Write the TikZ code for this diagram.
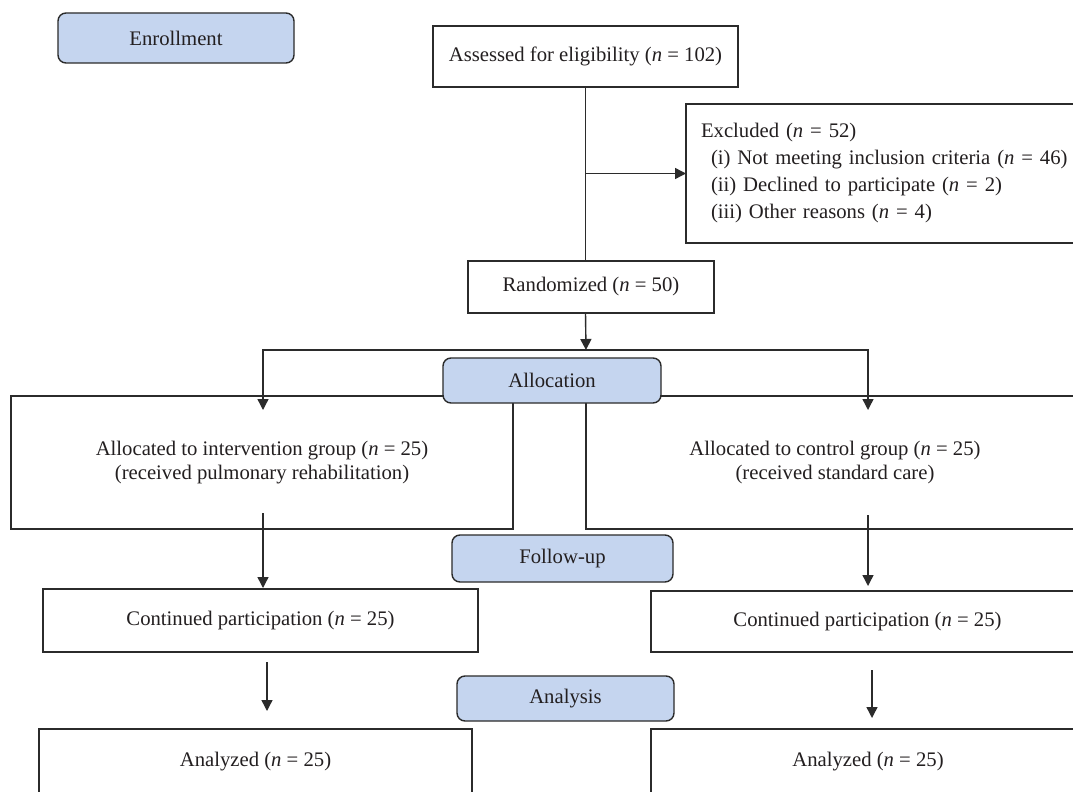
\documentclass[tikz,border=0pt]{standalone}
\usepackage{fontspec}
\setmainfont{Liberation Serif}
\usetikzlibrary{arrows.meta}
\definecolor{phase}{HTML}{C5D5EF}
\definecolor{ln}{HTML}{2B2B2B}
\definecolor{txt}{HTML}{231F20}
\begin{document}
\begin{tikzpicture}[x=1pt,y=-1pt,
  font=\fontsize{20.7}{23.5}\selectfont,
  box/.style={draw=ln, line width=1.4pt, fill=white, text=txt, inner sep=0pt, outer sep=0pt, align=center},
  phasebox/.style={box, fill=phase, rounded corners=8pt},
  conn/.style={draw=ln, line width=1.4pt},
  arr/.style={conn, -{Triangle[length=11pt,width=11pt]}}]
\useasboundingbox (0,0) rectangle (1073,792);
\fill[white] (0,0) rectangle (1073,792);
\clip (0,0) rectangle (1073,792);

% phase labels
\node[phasebox, minimum width=236pt, minimum height=50pt] (enr) at (176,38) {Enrollment};

% enrollment
\node[box, minimum width=305pt, minimum height=61pt] (assess) at (585.5,56.5)
  {Assessed for eligibility (\textit{n} = 102)};
\node[box, minimum height=139pt, text width=374pt, inner xsep=15pt, align=left,
      font=\fontsize{20.7}{27}\selectfont] (excl) at (888,173.5)
  {Excluded (\textit{n} = 52)\\
   \hspace*{10pt}(i) Not meeting inclusion criteria (\textit{n} = 46)\\
   \hspace*{10pt}(ii) Declined to participate (\textit{n} = 2)\\
   \hspace*{10pt}(iii) Other reasons (\textit{n} = 4)};
\node[box, minimum width=246pt, minimum height=52pt] (rand) at (591,287)
  {Randomized (\textit{n} = 50)};

% allocation
\node[box, minimum width=502pt, minimum height=133pt] (allocL) at (262,462.5)
  {Allocated to intervention group (\textit{n} = 25)\\(received pulmonary rehabilitation)};
\node[box, minimum width=498pt, minimum height=133pt] (allocR) at (835,462.5)
  {Allocated to control group (\textit{n} = 25)\\(received standard care)};
\node[phasebox, minimum width=218pt, minimum height=45pt] (alloc) at (552,380.5) {Allocation};

% follow-up
\node[phasebox, minimum width=221pt, minimum height=47pt] (fup) at (562.5,558.5) {Follow-up};
\node[box, minimum width=435pt, minimum height=63pt] (contL) at (260.5,620.5)
  {Continued participation (\textit{n} = 25)};
\node[box, minimum width=433pt, minimum height=61pt] (contR) at (867.5,621.5)
  {Continued participation (\textit{n} = 25)};

% analysis
\node[phasebox, minimum width=217pt, minimum height=45pt] (ana) at (565.5,698.5) {Analysis};
\node[box, minimum width=433pt, minimum height=66pt] (anaL) at (255.5,762)
  {Analyzed (\textit{n} = 25)};
\node[box, minimum width=434pt, minimum height=66pt] (anaR) at (868,762)
  {Analyzed (\textit{n} = 25)};

% connector points
\coordinate (split) at (586,350);
\coordinate (tipL) at (263,410);
\coordinate (tipR) at (868,410);
\coordinate (sL) at (263,513);
\coordinate (eL) at (263,588);
\coordinate (sR) at (868,515);
\coordinate (eR) at (868,586);
\coordinate (aL) at (267,662);
\coordinate (bL) at (267,711);
\coordinate (aR) at (872,670);
\coordinate (bR) at (872,718);

% connectors
\draw[conn] (assess.south) -- (assess.south |- rand.north);
\draw[arr] (assess.south |- excl.west) -- (excl.west);
\draw[arr] (assess.south |- rand.south) -- (split);
\draw[arr] (split) -| (tipL);
\draw[arr] (split) -| (tipR);
\draw[arr] (sL) -- (eL);
\draw[arr] (sR) -- (eR);
\draw[arr] (aL) -- (bL);
\draw[arr] (aR) -- (bR);
\end{tikzpicture}
\end{document}
